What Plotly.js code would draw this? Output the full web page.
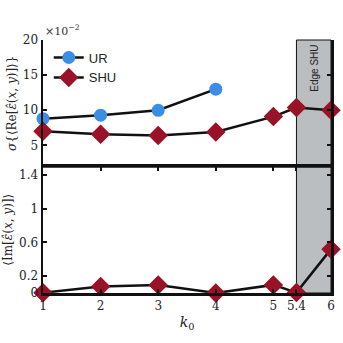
<!DOCTYPE html>
<html>
<head>
<meta charset="utf-8">
<script src="https://cdn.plot.ly/plotly-3.0.1.min.js"></script>
<style>
  html, body { margin: 0; padding: 0; background: #fff; }
  #plot { width: 343px; height: 343px; }
</style>
</head>
<body>
<div id="plot"></div>
<script>
// k0 values
const kUR = [1, 2, 3, 4];
const kSHU = [1, 2, 3, 4, 5, 5.4, 6];
// sigma{<Re[eps]>}, in units of 1e-2
const sigmaUR = [8.8, 9.3, 10.0, 13.0];
const sigmaSHU = [7.0, 6.6, 6.4, 6.9, 9.1, 10.4, 10.0];
// <Im[eps]>
const imSHU = [0.004, 0.076, 0.096, 0.0, 0.096, 0.005, 0.52];

const xTicks = [1, 2, 3, 4, 5, 5.4, 6];
const topTicks = [5, 10, 15, 20];
const botTicks = [0, 0.2, 0.6, 1, 1.4];
const edgeRange = [5.4, 6];

const blue = '#3a8ee6';
const red = '#9a1228';
const serif = 'DejaVu Serif, Liberation Serif, serif';
const sans = 'Liberation Sans, Arial, sans-serif';

const data = [
    {
        x: kUR, y: sigmaUR, name: 'UR',
        type: 'scatter', mode: 'lines+markers',
        line: {color: '#111', width: 2.5},
        marker: {color: blue, size: 13, symbol: 'circle'},
        xaxis: 'x', yaxis: 'y2',
        cliponaxis: false
    },
    {
        x: kSHU, y: sigmaSHU, name: 'SHU',
        type: 'scatter', mode: 'lines+markers',
        line: {color: '#111', width: 2.5},
        marker: {color: red, size: 15, symbol: 'diamond'},
        xaxis: 'x', yaxis: 'y2',
        cliponaxis: false
    },
    {
        x: kSHU, y: imSHU, name: 'SHU',
        type: 'scatter', mode: 'lines+markers',
        line: {color: '#111', width: 2.5},
        marker: {color: red, size: 15, symbol: 'diamond'},
        xaxis: 'x', yaxis: 'y',
        showlegend: false,
        cliponaxis: false
    }
];

const axisCommon = {
    showline: true, linecolor: '#111', linewidth: 2.5, mirror: 'ticks',
    ticks: 'inside', ticklen: 4, tickwidth: 2, tickcolor: '#111',
    showgrid: false, zeroline: false,
    tickfont: {family: serif, size: 12, color: '#222'}
};

const layout = {
    width: 343, height: 343,
    margin: {l: 43, r: 12, t: 40, b: 50},
    paper_bgcolor: '#fff', plot_bgcolor: 'rgba(0,0,0,0)',
    showlegend: true,
    legend: {
        x: 0.02, y: 0.99, xanchor: 'left', yanchor: 'top',
        bgcolor: 'rgba(0,0,0,0)',
        font: {family: sans, size: 13, color: '#222'},
        tracegroupgap: 0, itemwidth: 30
    },
    xaxis: Object.assign({}, axisCommon, {
        range: [1, 6], tickvals: xTicks, ticktext: xTicks.map(String),
        anchor: 'y',
        title: {text: '<i>k</i><sub>0</sub>', font: {family: serif, size: 14, color: '#222'}, standoff: 6}
    }),
    xaxis2: Object.assign({}, axisCommon, {
        range: [1, 6], tickvals: xTicks, showticklabels: false,
        anchor: 'y2', matches: 'x'
    }),
    yaxis: Object.assign({}, axisCommon, {
        domain: [0, 0.5], range: [0, 1.5], tickvals: botTicks,
        ticktext: botTicks.map(String),
        title: {text: '⟨Im[<i>ε̂</i>(<i>x</i>, <i>y</i>)]⟩', font: {family: serif, size: 12, color: '#222'}, standoff: 4}
    }),
    yaxis2: Object.assign({}, axisCommon, {
        domain: [0.5, 1], range: [2, 20], tickvals: topTicks,
        ticktext: topTicks.map(String),
        title: {text: '<i>σ</i>{⟨Re[<i>ε̂</i>(<i>x</i>, <i>y</i>)]⟩}', font: {family: serif, size: 12, color: '#222'}, standoff: 4}
    }),
    shapes: [
        {type: 'rect', xref: 'x', yref: 'paper', x0: edgeRange[0], x1: edgeRange[1], y0: 0, y1: 1,
         fillcolor: '#babec1', line: {color: '#111', width: 1}, layer: 'below'},
        {type: 'line', xref: 'paper', yref: 'paper', x0: 0, x1: 1, y0: 0.5, y1: 0.5,
         line: {color: '#111', width: 2.5}}
    ],
    annotations: [
        {text: '×10<sup>−2</sup>', xref: 'paper', yref: 'paper', x: 0.0, y: 1.0,
         xanchor: 'left', yanchor: 'bottom', showarrow: false,
         font: {family: serif, size: 11, color: '#333'}},
        {text: 'Edge SHU', xref: 'x', yref: 'paper', x: 5.7, y: 0.99,
         xanchor: 'center', yanchor: 'top', textangle: -90, showarrow: false,
         font: {family: sans, size: 10, color: '#222'}}
    ]
};

Plotly.newPlot('plot', data, layout, {displayModeBar: false, staticPlot: true});
</script>
</body>
</html>
